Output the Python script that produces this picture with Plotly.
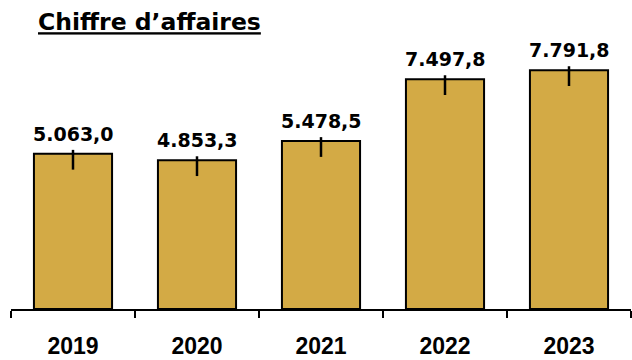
import plotly.graph_objects as go

years = ["2019", "2020", "2021", "2022", "2023"]
revenue = [5063.0, 4853.3, 5478.5, 7497.8, 7791.8]
err_plus = [130, 130, 130, 130, 130]
err_minus = [515, 515, 515, 515, 515]


def fmt(v):
    return f"{v:,.1f}".replace(",", "X").replace(".", ",").replace("X", ".")


W, H = 632, 360
fig = go.Figure()
fig.add_trace(go.Bar(
    x=years, y=revenue,
    width=0.63,
    marker=dict(color="#D3AA45", line=dict(color="black", width=2)),
    error_y=dict(type="data", symmetric=False, array=err_plus, arrayminus=err_minus,
                 color="black", thickness=2.5, width=0),
))

# annotations on a category axis take the category index as position
for i, v in enumerate(revenue):
    fig.add_annotation(x=i, y=v, text=fmt(v), showarrow=False, xanchor="center",
                       yanchor="bottom", yshift=7,
                       font=dict(family="DejaVu Sans", size=19, color="black", weight="bold"))

fig.update_layout(
    width=W, height=H,
    margin=dict(l=11, r=1, t=40, b=47),
    plot_bgcolor="white", paper_bgcolor="white",
    showlegend=False,
    title=dict(text="<u>Chiffre d’affaires</u>", x=38 / W, xanchor="left",
               y=1 - 22 / H, yanchor="middle", yref="container",
               font=dict(family="DejaVu Sans", size=23.5, color="black", weight="bold")),
    xaxis=dict(type="category", showline=True, linecolor="black", linewidth=2,
               ticks="outside", tickson="boundaries", ticklen=7, tickwidth=2, tickcolor="black",
               tickfont=dict(family="Liberation Sans", size=23, color="black", weight="bold"),
               showgrid=False, zeroline=False, ticklabelstandoff=15),
    yaxis=dict(range=[0, 8778], visible=False, showgrid=False, zeroline=False),
)

fig.write_html("out.html")
